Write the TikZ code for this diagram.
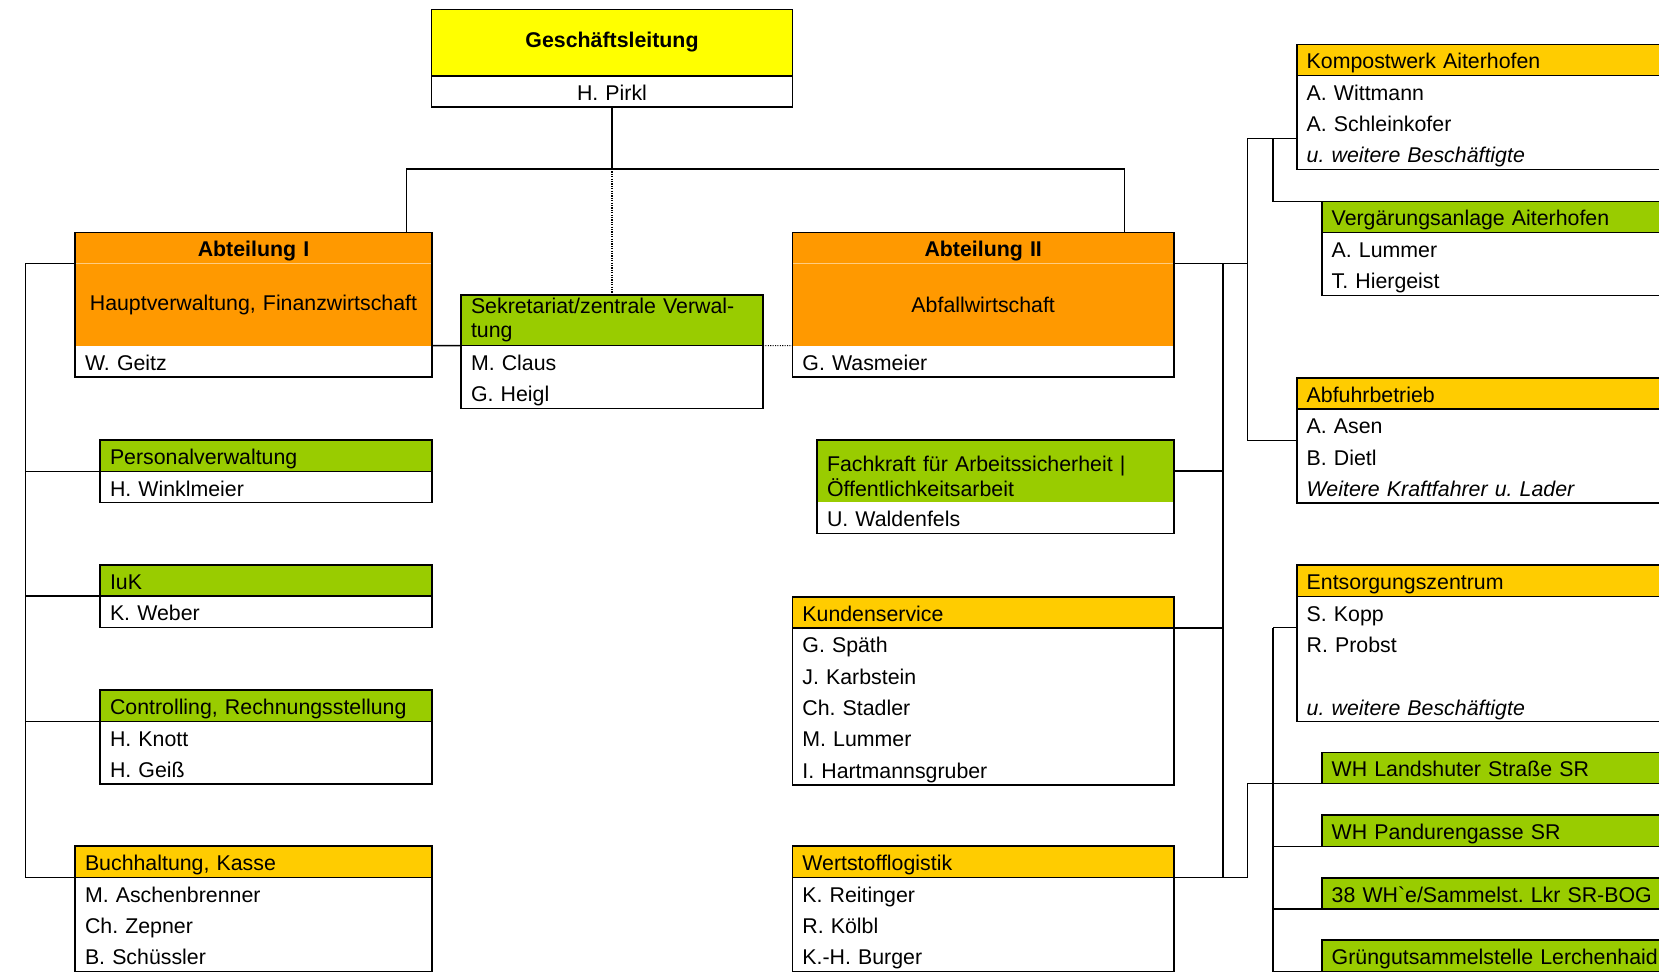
\documentclass[tikz,border=0pt]{standalone}
\usepackage{fontspec}
\setmainfont{Liberation Sans}
\usetikzlibrary{positioning}

\definecolor{gelb}{HTML}{FFFF00}
\definecolor{orangeton}{HTML}{FF9900}
\definecolor{gruen}{HTML}{99CC00}
\definecolor{gold}{HTML}{FFCC00}
\newcommand{\zs}{\rule[-5pt]{0pt}{23.5pt}}
\frenchspacing

\begin{document}
\begin{tikzpicture}[x=0.75pt, y=-0.75pt, line width=1.2pt, node distance=0pt,
	every node/.style={outer sep=0pt, inner xsep=7.5pt, inner ysep=0pt, font=\fontsize{16pt}{23.5pt}\selectfont},
	feld/.style={fill=#1, anchor=north west, align=left},
	kopf/.style={feld=#1, draw, text height=18.5pt, text depth=5pt},
	liste/.style={draw, align=left},
	punkt/.style={densely dotted, line width=0.8pt},
	hauch/.style={line width=0.6pt, orangeton!50!white}]
	\useasboundingbox (0,0) rectangle (1659,972);
	\clip (0,0) rectangle (1659,972);
	% Leitung
	\node[feld=gelb, draw, minimum height=49.8pt, text width=255.75pt, align=center] (gl) at (431.5,9.3) {\textbf{Geschäftsleitung}};
	\node[liste, below=0pt of gl, text width=255.75pt, align=center] (gl-n) {\zs H. Pirkl};
	% Abteilung I
	\node[feld=orangeton, text height=18.5pt, text depth=5pt, text width=252.75pt, align=center] (abt1) at (75,232.3) {\textbf{Abteilung I}};
	\node[feld=orangeton, below=0pt of abt1, minimum height=61.5pt, text width=252.75pt, align=center] (abt1-t) {Hauptverwaltung, Finanzwirtschaft};
	\node[feld=white, below=0pt of abt1-t, text width=252.75pt] (abt1-n) {\zs W. Geitz};
	\draw[hauch] (abt1.south west) -- (abt1.south east);
	\draw (abt1.north west) rectangle (abt1-n.south east);
	% Sekretariat
	\node[feld=gruen, draw, minimum height=38pt, text width=211.5pt, font=\fontsize{16pt}{18pt}\selectfont] (sek) at (461,295) {Sekretariat/zentrale Verwal-\\tung};
	\node[liste, below=0pt of sek, text width=211.5pt] (sek-b) {\zs M. Claus\\\zs G. Heigl};
	% Abteilung II
	\node[feld=orangeton, text height=18.5pt, text depth=5pt, text width=271.2pt, align=center] (abt2) at (792.4,232.3) {\textbf{Abteilung II}};
	\node[feld=orangeton, below=0pt of abt2, minimum height=61.5pt, text width=271.2pt, align=center] (abt2-t) {Abfallwirtschaft};
	\node[feld=white, below=0pt of abt2-t, text width=271.2pt] (abt2-n) {\zs G. Wasmeier};
	\draw[hauch] (abt2.south west) -- (abt2.south east);
	\draw (abt2.north west) rectangle (abt2-n.south east);
	% Abteilung I, Sachgebiete
	\node[kopf=gruen, text width=234pt] (pv) at (100,440) {Personalverwaltung};
	\node[liste, below=0pt of pv, text width=234pt] (pv-b) {\zs H. Winklmeier};
	\node[kopf=gruen, text width=234pt] (iuk) at (100,564.7) {IuK};
	\node[liste, below=0pt of iuk, text width=234pt] (iuk-b) {\zs K. Weber};
	\node[kopf=gruen, text width=234pt] (ctrl) at (100,690) {Controlling, Rechnungsstellung};
	\node[liste, below=0pt of ctrl, text width=234pt] (ctrl-b) {\zs H. Knott\\\zs H. Geiß};
	\node[kopf=gold, text width=252.75pt] (bh) at (75,846) {Buchhaltung, Kasse};
	\node[liste, below=0pt of bh, text width=252.75pt] (bh-b) {\zs M. Aschenbrenner\\\zs Ch. Zepner\\\zs B. Schüssler};
	% Abteilung II, Sachgebiete
	\node[feld=gruen, minimum height=46.5pt, text width=252.75pt, font=\fontsize{16pt}{18.5pt}\selectfont] (fk) at (817,440) {\rule{0pt}{19.5pt}Fachkraft für Arbeitssicherheit |\\Öffentlichkeitsarbeit};
	\node[feld=white, below=0pt of fk, text width=252.75pt] (fk-n) {\zs U. Waldenfels};
	\draw (fk.north west) rectangle (fk-n.south east);
	\node[kopf=gold, text width=271.2pt] (ks) at (792.4,596.7) {Kundenservice};
	\node[liste, below=0pt of ks, text width=271.2pt] (ks-b) {\zs G. Späth\\\zs J. Karbstein\\\zs Ch. Stadler\\\zs M. Lummer\\\zs I. Hartmannsgruber};
	\node[kopf=gold, text width=271.2pt] (wl) at (792.4,846) {Wertstofflogistik};
	\node[liste, below=0pt of wl, text width=271.2pt] (wl-b) {\zs K. Reitinger\\\zs R. Kölbl\\\zs K.-H. Burger};
	% Betriebe
	\node[kopf=gold, text width=285pt] (kw) at (1296.7,44.3) {Kompostwerk Aiterhofen};
	\node[liste, below=0pt of kw, text width=285pt] (kw-b) {\zs A. Wittmann\\\zs A. Schleinkofer\\\zs\textit{u. weitere Beschäftigte}};
	\node[kopf=gruen, text width=285pt] (vg) at (1321.7,201.3) {Vergärungsanlage Aiterhofen};
	\node[liste, below=0pt of vg, text width=285pt] (vg-b) {\zs A. Lummer\\\zs T. Hiergeist};
	\node[kopf=gold, text width=285pt] (ab) at (1296.7,377.7) {Abfuhrbetrieb};
	\node[liste, below=0pt of ab, text width=285pt] (ab-b) {\zs A. Asen\\\zs B. Dietl\\\zs\textit{Weitere Kraftfahrer u. Lader}};
	\node[kopf=gold, text width=285pt] (ez) at (1296.7,565) {Entsorgungszentrum};
	\node[liste, below=0pt of ez, text width=285pt] (ez-b) {\zs S. Kopp\\\zs R. Probst\\\zs\\\zs\textit{u. weitere Beschäftigte}};
	\node[kopf=gruen, text width=285pt] (wh1) at (1321.7,752.3) {WH Landshuter Straße SR};
	\node[kopf=gruen, text width=285pt] (wh2) at (1321.7,815) {WH Pandurengasse SR};
	\node[kopf=gruen, text width=285pt] (wh3) at (1321.7,877.7) {38 WH\textasciigrave e/Sammelst. Lkr SR-BOG};
	\node[kopf=gruen, text width=285pt] (wh4) at (1321.7,940) {Grüngutsammelstelle Lerchenhaid};
	% Verbindungen
	\draw (gl-n.south) -- ++(0,62) coordinate (mitte);
	\draw ([xshift=-19pt]abt1.north east) |- (mitte) -| ([xshift=-37pt]abt2.north east);
	\draw[punkt] (mitte) -- (sek.north);
	\draw (abt1-t.south east) -- (sek.south west);
	\draw[punkt] (sek.south east) -- (abt2-t.south west);
	\draw (abt1.south west) -- ++(-49.6,0) coordinate (links) |- (bh.south west);
	\draw (links) |- (pv.south west);
	\draw (links) |- (iuk.south west);
	\draw (links) |- (ctrl.south west);
	\draw (abt2.south east) -- ++(73.5,0) coordinate (bus2);
	\draw ([yshift=23.5pt]kw-b.south west) -| (bus2) |- ([yshift=-23.5pt]ab-b.north west);
	\draw ([yshift=23.5pt]kw-b.south west) ++(-23.7,0) |- (vg.north west);
	\draw (abt2.south east) ++(49,0) coordinate (bus1) |- (wl.south east);
	\draw (fk.east) -- (fk.east -| bus1);
	\draw (ks.south east) -- (ks.south east -| bus1);
	\draw (wl.south east) -- ++(73.5,0) |- (wh1.south west);
	\draw ([yshift=-23.5pt]ez-b.north west) -- ++(-23.7,0) coordinate (bus3);
	\draw (bus3) |- (wh2.south west);
	\draw (bus3) |- (wh3.south west);
	\draw (bus3) |- (wh4.south west);
\end{tikzpicture}
\end{document}
